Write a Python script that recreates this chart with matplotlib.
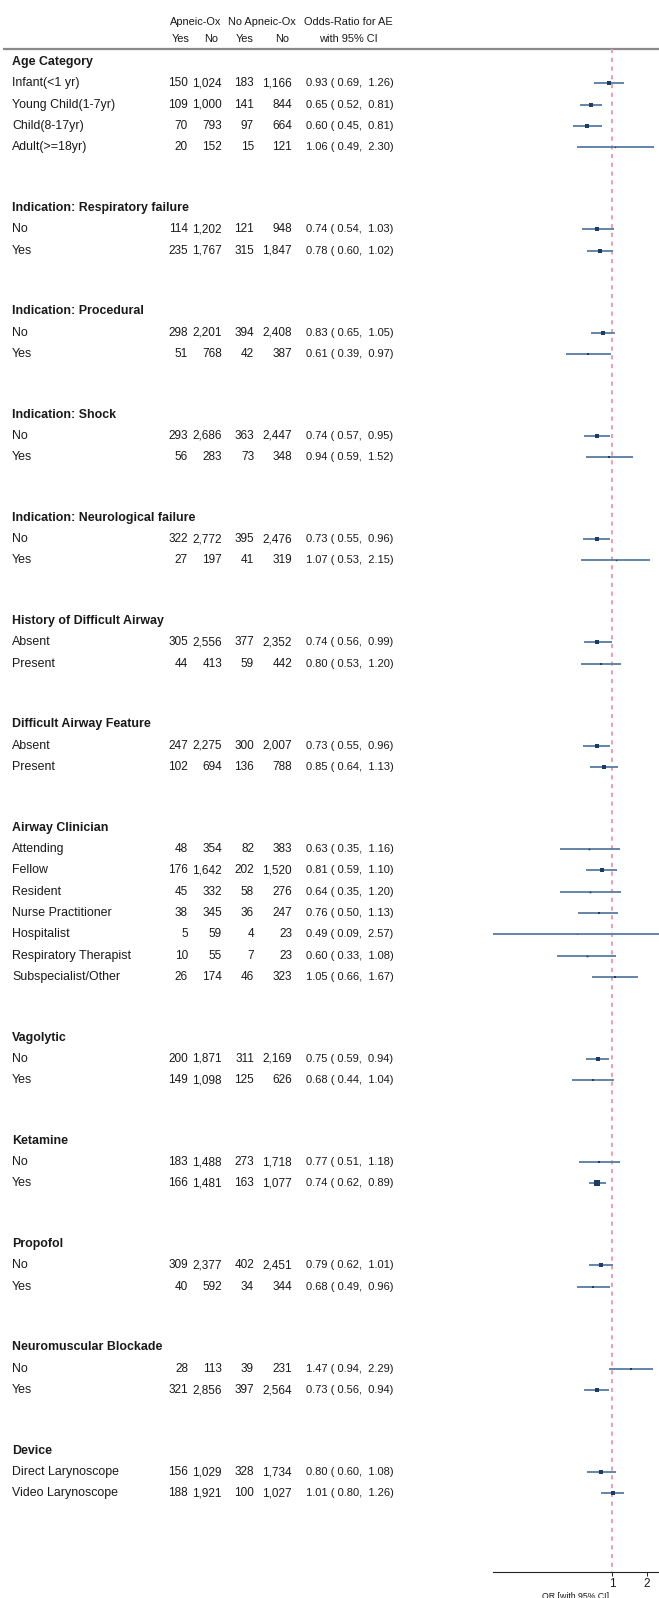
import matplotlib
matplotlib.use("Agg")
import matplotlib.pyplot as plt
import numpy as np

# ---------------- data ----------------
groups = ["Age Category", "Indication: Respiratory failure", "Indication: Procedural",
          "Indication: Shock", "Indication: Neurological failure",
          "History of Difficult Airway", "Difficult Airway Feature", "Airway Clinician",
          "Vagolytic", "Ketamine", "Propofol", "Neuromuscular Blockade", "Device"]
group_sizes = [4, 2, 2, 2, 2, 2, 2, 7, 2, 2, 2, 2, 2]

labels = ["Infant(<1 yr)", "Young Child(1-7yr)", "Child(8-17yr)", "Adult(>=18yr)",
          "No", "Yes",
          "No", "Yes",
          "No", "Yes",
          "No", "Yes",
          "Absent", "Present",
          "Absent", "Present",
          "Attending", "Fellow", "Resident", "Nurse Practitioner", "Hospitalist",
          "Respiratory Therapist", "Subspecialist/Other",
          "No", "Yes",
          "No", "Yes",
          "No", "Yes",
          "No", "Yes",
          "Direct Larynoscope", "Video Larynoscope"]

apneic_yes = [150, 109, 70, 20, 114, 235, 298, 51, 293, 56, 322, 27, 305, 44, 247, 102,
              48, 176, 45, 38, 5, 10, 26, 200, 149, 183, 166, 309, 40, 28, 321, 156, 188]
apneic_no = [1024, 1000, 793, 152, 1202, 1767, 2201, 768, 2686, 283, 2772, 197, 2556, 413,
             2275, 694, 354, 1642, 332, 345, 59, 55, 174, 1871, 1098, 1488, 1481, 2377, 592,
             113, 2856, 1029, 1921]
noapneic_yes = [183, 141, 97, 15, 121, 315, 394, 42, 363, 73, 395, 41, 377, 59, 300, 136,
                82, 202, 58, 36, 4, 7, 46, 311, 125, 273, 163, 402, 34, 39, 397, 328, 100]
noapneic_no = [1166, 844, 664, 121, 948, 1847, 2408, 387, 2447, 348, 2476, 319, 2352, 442,
               2007, 788, 383, 1520, 276, 247, 23, 23, 323, 2169, 626, 1718, 1077, 2451, 344,
               231, 2564, 1734, 1027]
odds_ratio = [0.93, 0.65, 0.60, 1.06, 0.74, 0.78, 0.83, 0.61, 0.74, 0.94, 0.73, 1.07, 0.74,
              0.80, 0.73, 0.85, 0.63, 0.81, 0.64, 0.76, 0.49, 0.60, 1.05, 0.75, 0.68, 0.77,
              0.74, 0.79, 0.68, 1.47, 0.73, 0.80, 1.01]
ci_low = [0.69, 0.52, 0.45, 0.49, 0.54, 0.60, 0.65, 0.39, 0.57, 0.59, 0.55, 0.53, 0.56, 0.53,
          0.55, 0.64, 0.35, 0.59, 0.35, 0.50, 0.09, 0.33, 0.66, 0.59, 0.44, 0.51, 0.62, 0.62,
          0.49, 0.94, 0.56, 0.60, 0.80]
ci_high = [1.26, 0.81, 0.81, 2.30, 1.03, 1.02, 1.05, 0.97, 0.95, 1.52, 0.96, 2.15, 0.99, 1.20,
           0.96, 1.13, 1.16, 1.10, 1.20, 1.13, 2.57, 1.08, 1.67, 0.94, 1.04, 1.18, 0.89, 1.01,
           0.96, 2.29, 0.94, 1.08, 1.26]
x_ticks = [1, 2]
x_tick_labels = ["1", "2"]

# ---------------- fonts ----------------
plt.rcParams["font.family"] = ["Liberation Sans", "DejaVu Sans"]
FS = 8.0        # odds-ratio column
FS_NUM = 8.5    # count columns
FS_HDR = 7.9    # column headers
FS_LAB = 8.9    # row labels and group headings
TXT = "#1a1a1a"

# ---------------- layout ----------------
W, H = 659, 1598
ROW = 21.3      # px per row
Y0 = 62         # px of first heading
GAP = 2.85      # rows between last item and next heading

def prow(px):
    return (px - Y0) / ROW

fig = plt.figure(figsize=(W / 100, H / 100), dpi=100)
ax = fig.add_axes([0, 0, 1, 1])
ax.set_xlim(0, W)
ax.set_ylim(prow(H), prow(0))
ax.axis("off")

def T(x, y, s, ha="left", bold=False, fs=FS):
    ax.text(x, y, s, ha=ha, va="center", fontsize=fs, color=TXT,
            fontweight="bold" if bold else "normal")

# row positions
heading_pos = []
item_pos = []
pos = 0.0
for n in group_sizes:
    heading_pos.append(pos)
    for j in range(n):
        pos += 1
        item_pos.append(pos)
    pos += GAP

# header
hdr1 = prow(22)
hdr2 = prow(39)
T(196, hdr1, "Apneic-Ox", ha="center", fs=FS_HDR)
T(262, hdr1, "No Apneic-Ox", ha="center", fs=FS_HDR)
T(348, hdr1, "Odds-Ratio for AE", ha="center", fs=FS_HDR)
for xc, t in zip([181, 211, 245, 282], ["Yes", "No", "Yes", "No"]):
    T(xc, hdr2, t, ha="center", fs=FS_HDR)
T(348, hdr2, "with 95% CI", ha="center", fs=FS_HDR)
ax.plot([3, W], [prow(49), prow(49)], color="#8a8a8a", lw=1.6, solid_capstyle="butt")

for g, y in zip(groups, heading_pos):
    T(12, y, g, bold=True, fs=FS_LAB)

cols_x = [188, 222, 254, 292]
for i, y in enumerate(item_pos):
    T(12, y, labels[i], fs=FS_LAB)
    for xc, arr in zip(cols_x, [apneic_yes, apneic_no, noapneic_yes, noapneic_no]):
        T(xc, y, f"{arr[i]:,}", ha="right", fs=FS_NUM)
    T(306, y, f"{odds_ratio[i]:.2f} ( {ci_low[i]:.2f},  {ci_high[i]:.2f})")

# ---------------- forest axes ----------------
AX_L, AX_B = 493, 1572
fx = fig.add_axes([AX_L / W, (H - AX_B) / H, (W - AX_L) / W, AX_B / H])
fx.set_xscale("log")
fx.set_xlim(0.09, 2.57)
fx.set_ylim(prow(AX_B), prow(0))
fx.patch.set_alpha(0)
for s in ["top", "right", "left"]:
    fx.spines[s].set_visible(False)
fx.spines["bottom"].set_color("#222222")
fx.spines["bottom"].set_linewidth(0.8)
fx.set_yticks([])
fx.set_xticks(x_ticks)
fx.set_xticklabels(x_tick_labels, fontsize=8.5, color=TXT)
fx.xaxis.set_minor_locator(matplotlib.ticker.NullLocator())
fx.tick_params(axis="x", length=3, width=0.7, pad=1.5, color="#222222")
fx.set_xlabel("OR [with 95% CI]", fontsize=6.3, labelpad=1.5, color=TXT)

fx.vlines(1, prow(49), prow(AX_B), colors="#e8a2b7", linestyles=(0, (2, 2.2)), lw=1.5,
          zorder=1)

orv = np.array(odds_ratio)
lo = np.array(ci_low)
hi = np.array(ci_high)
se = (np.log(hi) - np.log(lo)) / 3.92
w = 1 / se ** 2
ms = 0.36 * np.sqrt(w)
ys = np.array(item_pos)
fx.hlines(ys, lo, hi, colors="#587ca3", lw=1.3, zorder=2)
for i in range(len(ys)):
    fx.plot(orv[i], ys[i], marker="s", ms=ms[i], color="#1d3b63", mec="#1d3b63", mew=0,
            zorder=3, ls="none")

fig.savefig("out.png", dpi=100)
